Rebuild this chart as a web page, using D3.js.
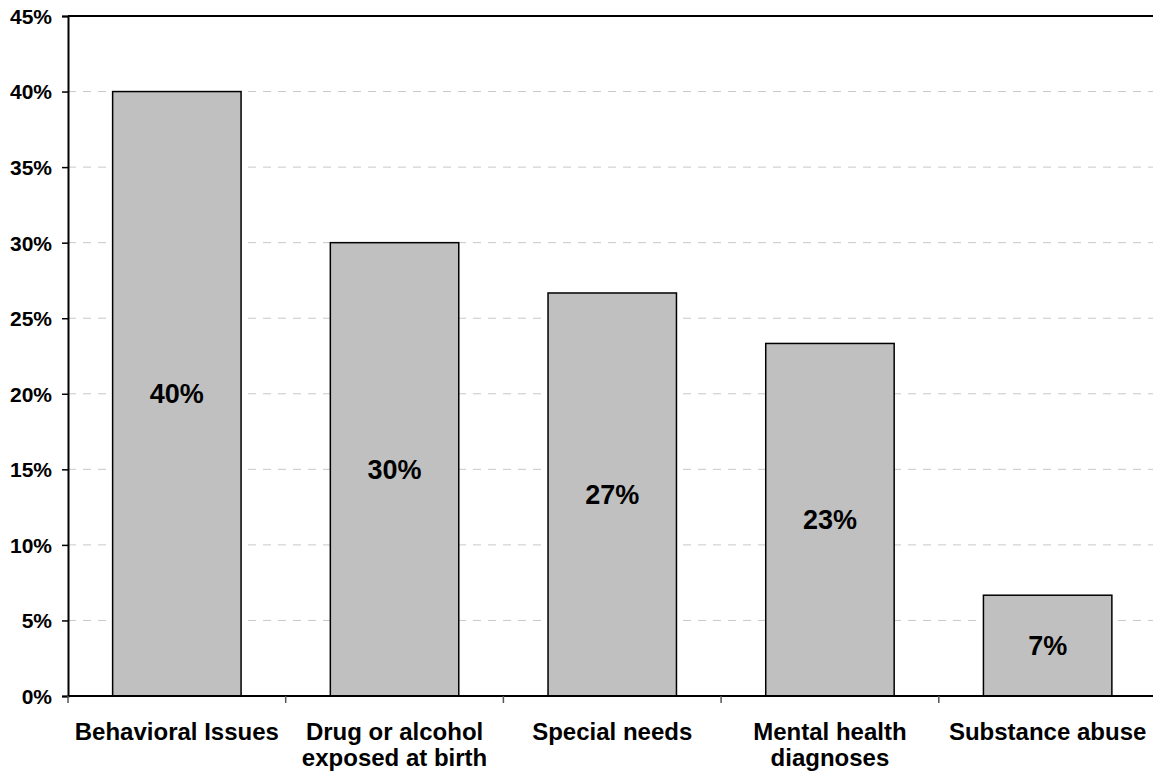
<!DOCTYPE html>
<html>
<head>
<meta charset="utf-8">
<script src="https://cdn.jsdelivr.net/npm/d3@7"></script>
<style>
  html, body { margin: 0; padding: 0; background: #fff; }
  svg { display: block; }
  text { font-family: "Liberation Sans", Arial, sans-serif; font-weight: bold; fill: #000; }
</style>
</head>
<body>
<svg id="chart" width="1153" height="776"></svg>
<script>
const categories = ["Behavioral Issues", "Drug or alcohol\nexposed at birth", "Special needs", "Mental health\ndiagnoses", "Substance abuse"];
const values = [40, 30, 26.67, 23.33, 6.67];
const barLabels = ["40%", "30%", "27%", "23%", "7%"];
const yTicks = [0, 5, 10, 15, 20, 25, 30, 35, 40, 45];

(function () {
const svg = d3.select("#chart");
const pLeft = 68, pRight = 1156.5, pTop = 16, pBottom = 696;

const x = d3.scaleBand().domain(d3.range(categories.length))
  .range([pLeft, pRight]).paddingInner(0.41).paddingOuter(0.205);
const y = d3.scaleLinear().domain([0, 45]).range([pBottom, pTop]);

// gridlines
svg.append("g").selectAll("line").data(yTicks.filter(t => t > 0 && t < 45)).join("line")
  .attr("x1", pLeft).attr("x2", 1153)
  .attr("y1", d => y(d)).attr("y2", d => y(d))
  .attr("stroke", "#c8c8c8").attr("stroke-width", 1).attr("stroke-dasharray", "8,7");

// top border
svg.append("line").attr("x1", pLeft).attr("x2", 1153).attr("y1", y(45)).attr("y2", y(45))
  .attr("stroke", "#000").attr("stroke-width", 2);

// bars
svg.append("g").selectAll("rect").data(values).join("rect")
  .attr("x", (d, i) => x(i)).attr("width", x.bandwidth())
  .attr("y", d => y(d)).attr("height", d => y(0) - y(d))
  .attr("fill", "#c0c0c0").attr("stroke", "#000").attr("stroke-width", 1.5);

// bar labels
svg.append("g").selectAll("text").data(values).join("text")
  .attr("x", (d, i) => x(i) + x.bandwidth() / 2)
  .attr("y", d => (y(d) + y(0)) / 2)
  .attr("text-anchor", "middle").attr("dy", "0.36em")
  .style("font-size", "27px")
  .text((d, i) => barLabels[i]);

// y axis
const yAxis = d3.axisLeft(y).tickValues(yTicks).tickFormat(d => d + "%").tickSize(6).tickPadding(10);
const gy = svg.append("g").attr("transform", `translate(${pLeft},0)`).call(yAxis);
gy.select(".domain").attr("stroke", "#000").attr("stroke-width", 2);
gy.selectAll(".tick line").attr("stroke", "#000").attr("stroke-width", 1.5);
gy.selectAll(".tick text").style("font-size", "21px").style("font-family", "'Liberation Sans', Arial, sans-serif").style("font-weight", "bold").attr("fill", "#000").attr("dy", "0.35em");

// x axis line
svg.append("line").attr("x1", pLeft).attr("x2", 1153).attr("y1", pBottom).attr("y2", pBottom)
  .attr("stroke", "#000").attr("stroke-width", 2);

// x ticks at band boundaries
const step = x.step();
const boundaries = d3.range(categories.length).map(i => x(i) - (step - x.bandwidth()) / 2);
svg.append("g").selectAll("line").data(boundaries).join("line")
  .attr("x1", d => d).attr("x2", d => d).attr("y1", pBottom).attr("y2", pBottom + 7)
  .attr("stroke", "#555").attr("stroke-width", 1.5);

// category labels
const cl = svg.append("g").selectAll("text").data(categories).join("text")
  .attr("x", (d, i) => x(i) + x.bandwidth() / 2)
  .attr("y", 740)
  .attr("text-anchor", "middle")
  .style("font-size", "24px");
cl.each(function(d) {
  const lines = d.split("\n");
  const t = d3.select(this);
  t.selectAll("tspan").data(lines).join("tspan")
    .attr("x", t.attr("x"))
    .attr("dy", (l, j) => j === 0 ? 0 : 26)
    .text(l => l);
});
})();
</script>
</body>
</html>
